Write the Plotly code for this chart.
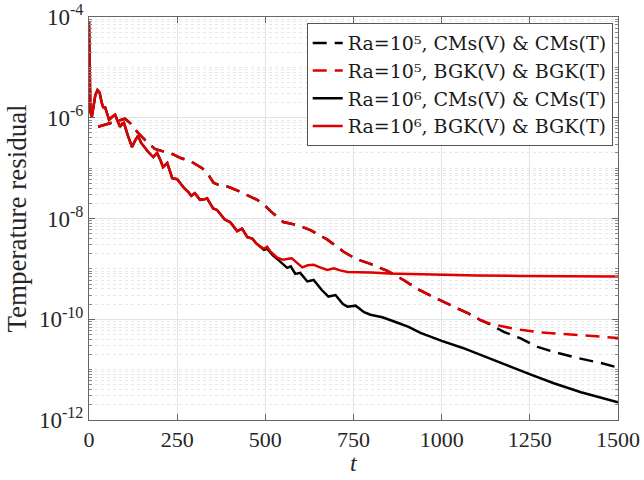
import plotly.graph_objects as go

# ---- data (t, log10 of temperature residual) ----
# Ra=1e6: both schemes coincide up to t~490
t_ra6_common = [0, 0.5, 2, 4, 8, 13, 18, 24, 30, 36, 40, 46, 52, 57, 66, 74, 82, 88, 94, 99,
                110, 122, 131, 139, 148, 159, 168, 182, 193, 203, 210, 222, 230, 236, 250,
                258, 270, 281, 290, 300, 315, 327, 335, 345, 352, 363, 372, 385, 400, 410,
                420, 434, 449, 463, 475, 486]
lg_ra6_common = [-4.1, -4.5, -5.5, -5.88, -5.98, -5.8, -5.55, -5.45, -5.5, -5.7, -5.79, -5.8,
                 -5.92, -6.04, -5.98, -5.94, -6.08, -6.18, -6.12, -6.1, -6.35, -6.58, -6.45,
                 -6.36, -6.5, -6.6, -6.68, -6.78, -6.7, -6.85, -6.98, -6.9, -7.05, -7.2, -7.22,
                 -7.3, -7.4, -7.47, -7.55, -7.5, -7.63, -7.62, -7.6, -7.72, -7.8, -7.83, -7.9,
                 -8.02, -8.07, -8.17, -8.25, -8.2, -8.37, -8.4, -8.5, -8.56]
# Ra=1e6, CMs tail
t_ra6_cms_tail = [496, 505, 520, 543, 562, 572, 585, 599, 619, 637, 660, 679, 699, 720, 733, 756,
                  780, 798, 832, 875, 906, 940, 1000, 1060, 1120, 1188, 1253, 1318, 1395, 1450, 1500]
lg_ra6_cms_tail = [-8.62, -8.6, -8.72, -8.86, -8.98, -8.95, -9.1, -9.08, -9.25, -9.22, -9.42, -9.55,
                   -9.52, -9.7, -9.75, -9.73, -9.86, -9.91, -9.96, -10.07, -10.15, -10.27, -10.43,
                   -10.57, -10.74, -10.92, -11.1, -11.27, -11.45, -11.55, -11.65]
# Ra=1e6, BGK tail
t_ra6_bgk_tail = [496, 505, 515, 534, 551, 565, 575, 590, 605, 620, 637, 655, 676, 694, 712, 733,
                  760, 800, 850, 912, 1000, 1100, 1224, 1350, 1500]
lg_ra6_bgk_tail = [-8.6, -8.56, -8.66, -8.78, -8.82, -8.8, -8.79, -8.88, -8.97, -8.93, -8.92, -8.97,
                   -9.02, -8.99, -9.03, -9.06, -9.06, -9.07, -9.09, -9.1, -9.12, -9.13, -9.14,
                   -9.14, -9.15]

# Ra=1e5: both schemes coincide up to t~1120
t_ra5_common = [26, 45, 70, 102, 116, 139, 160, 187, 216, 230, 260, 287, 321, 340, 353, 370, 395,
                429, 477, 500, 514, 551, 570, 590, 628, 676, 722, 756, 798, 846, 892, 931, 977,
                1026, 1074, 1111, 1125]
lg_ra5_common = [-6.18, -6.14, -6.08, -6.02, -6.1, -6.3, -6.45, -6.62, -6.68, -6.7, -6.8, -6.86,
                 -7.0, -7.15, -7.29, -7.34, -7.37, -7.47, -7.63, -7.75, -7.85, -8.07, -8.1, -8.13,
                 -8.23, -8.42, -8.66, -8.8, -8.9, -9.04, -9.22, -9.4, -9.56, -9.72, -9.88, -10.02,
                 -10.06]
t_ra5_cms_tail = [1150, 1176, 1224, 1272, 1318, 1386, 1452, 1500]
lg_ra5_cms_tail = [-10.15, -10.25, -10.38, -10.55, -10.65, -10.77, -10.87, -10.96]
t_ra5_bgk_tail = [1150, 1175, 1200, 1224, 1281, 1357, 1423, 1500]
lg_ra5_bgk_tail = [-10.11, -10.15, -10.18, -10.21, -10.26, -10.3, -10.33, -10.37]

names = ["Ra=10\u2075, CMs(V) & CMs(T)",
         "Ra=10\u2075, BGK(V) & BGK(T)",
         "Ra=10\u2076, CMs(V) & CMs(T)",
         "Ra=10\u2076, BGK(V) & BGK(T)"]

x_ticks = [0, 250, 500, 750, 1000, 1250, 1500]
y_tick_exps = [-12, -10, -8, -6, -4]


def to_val(lgs):
    return [10 ** v for v in lgs]


series = [
    (t_ra5_common + t_ra5_cms_tail, lg_ra5_common + lg_ra5_cms_tail, "black", "14px,8px"),
    (t_ra5_common + t_ra5_bgk_tail, lg_ra5_common + lg_ra5_bgk_tail, "#e00000", "14px,8px"),
    (t_ra6_common + t_ra6_cms_tail, lg_ra6_common + lg_ra6_cms_tail, "black", "solid"),
    (t_ra6_common + t_ra6_bgk_tail, lg_ra6_common + lg_ra6_bgk_tail, "#e00000", "solid"),
]

fig = go.Figure()
for (tt, lg, col, dash), nm in zip(series, names):
    fig.add_trace(go.Scatter(x=tt, y=to_val(lg), mode="lines", name=nm,
                             line=dict(color=col, width=2.5, dash=dash)))

FONT = "Liberation Serif, Times New Roman, serif"
fig.update_layout(
    width=644, height=480,
    margin=dict(l=89, r=26, t=17, b=60),
    paper_bgcolor="white", plot_bgcolor="white",
    font=dict(family=FONT, size=23, color="#262626"),
    showlegend=True,
    legend=dict(x=0.99, xanchor="right", y=0.985, yanchor="top",
                bgcolor="white", bordercolor="#555555", borderwidth=1,
                font=dict(family="DejaVu Serif", size=19, color="#1a1a1a"),
                itemwidth=30, tracegroupgap=0),
    annotations=[dict(text="<i>t</i>", xref="paper", yref="paper", x=0.5, y=-0.141,
                      xanchor="center", yanchor="bottom", showarrow=False, borderpad=0,
                      font=dict(size=24, family=FONT, color="#262626"))],
)
fig.update_xaxes(
    range=[0, 1500], tickvals=x_ticks, ticktext=[str(v) for v in x_ticks],
    automargin=False,
    showline=True, linecolor="#666666", linewidth=1, mirror="ticks",
    ticks="inside", ticklen=6, tickcolor="#666666",
    showgrid=True, gridcolor="#e3e3e3", gridwidth=1, zeroline=False,
    tickfont=dict(size=22, family=FONT),
)
fig.update_yaxes(
    type="log", range=[-12, -4],
    tickvals=[10 ** e for e in y_tick_exps],
    ticktext=["10<sup>%d</sup>" % e for e in y_tick_exps],
    automargin=False,
    showline=True, linecolor="#666666", linewidth=1, mirror="ticks",
    ticks="inside", ticklen=6, tickcolor="#666666",
    showgrid=True, gridcolor="#e3e3e3", gridwidth=1, zeroline=False,
    minor=dict(dtick="D1", showgrid=True, gridcolor="#e8e8e8", griddash="dot",
               ticks="inside", ticklen=3, tickcolor="#888888"),
    title=dict(text="Temperature residual", font=dict(size=27, family=FONT), standoff=4),
    tickfont=dict(size=23, family=FONT),
)

fig.write_html("out.html")
